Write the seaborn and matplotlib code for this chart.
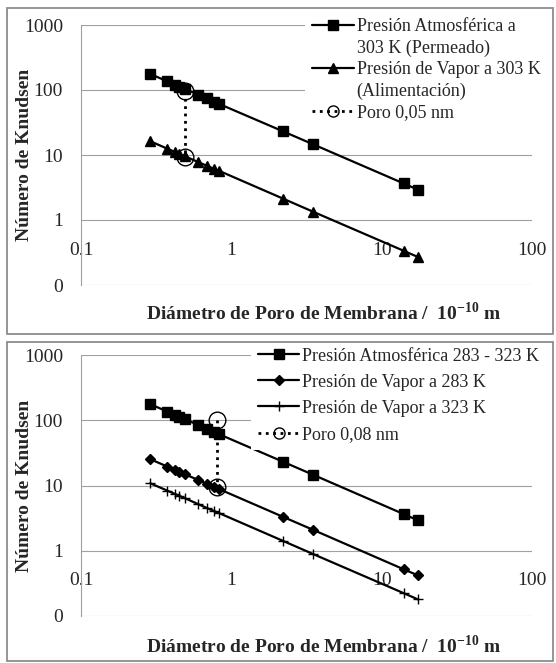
import matplotlib
matplotlib.use("Agg")
import matplotlib.pyplot as plt
import seaborn as sns
from matplotlib.lines import Line2D
from matplotlib.patches import Rectangle
from matplotlib.ticker import FixedLocator, FuncFormatter, NullLocator

# pore diameter (10^-10 m) shared by every series
pore_diam = [0.289, 0.375, 0.42, 0.45, 0.49, 0.60, 0.69, 0.77, 0.83, 2.2, 3.5, 14.0, 17.4]

# Knudsen numbers
kn_atm = [176, 136, 121, 113, 104, 85, 74, 66, 61, 23.2, 14.6, 3.65, 2.93]
kn_vap_303 = [16.3, 12.5, 11.2, 10.4, 9.6, 7.8, 6.8, 6.1, 5.7, 2.14, 1.34, 0.336, 0.27]
kn_vap_283 = [25.3, 19.5, 17.4, 16.2, 14.9, 12.2, 10.6, 9.5, 8.8, 3.32, 2.09, 0.52, 0.42]
kn_vap_323 = [10.8, 8.35, 7.45, 6.95, 6.4, 5.2, 4.5, 4.05, 3.77, 1.42, 0.89, 0.224, 0.18]

# vertical "pore" markers
pore_top_x = [0.49, 0.49]
pore_top_y = [95, 9.4]
pore_bot_x = [0.8, 0.8]
pore_bot_y = [100, 9.4]

x_ticks = [0.1, 1, 10, 100]
y_ticks = [0.1, 1, 10, 100, 1000]

xlabel = r"Diámetro de Poro de Membrana /  10$^{\mathbf{-10}}$ m"
ylabel = "Número de Knudsen"

sns.set_style("white")
plt.rcParams['font.family'] = ['Liberation Serif', 'DejaVu Serif']
plt.rcParams['mathtext.fontset'] = 'custom'
plt.rcParams['mathtext.rm'] = 'Liberation Serif'
plt.rcParams['mathtext.bf'] = 'Liberation Serif:bold'

W, H = 556, 663
fig = plt.figure(figsize=(W / 100, H / 100), dpi=100)


def px_axes(left, top, right, bottom):
    return fig.add_axes([left / W, 1 - bottom / H, (right - left) / W, (bottom - top) / H])


def draw_series(ax, y, marker, ms):
    sns.lineplot(x=pore_diam, y=y, ax=ax, color='black', lw=1.6, marker=marker,
                 markersize=ms, markeredgecolor='black', markerfacecolor='black',
                 markeredgewidth=1.0, estimator=None, sort=False, legend=False)


def draw_pore(ax, xs, ys):
    sns.lineplot(x=xs, y=ys, ax=ax, color='black', lw=2, linestyle=':', marker='o',
                 markersize=12, markerfacecolor='none', markeredgecolor='black',
                 markeredgewidth=1.0, estimator=None, sort=False, legend=False)


def style_axes(ax, xlab_y):
    ax.set_xscale('log')
    ax.set_yscale('log')
    ax.set_xlim(0.1, 100)
    ax.set_ylim(0.1, 1000)
    ax.xaxis.set_major_locator(FixedLocator(x_ticks))
    ax.yaxis.set_major_locator(FixedLocator(y_ticks))
    ax.xaxis.set_minor_locator(NullLocator())
    ax.yaxis.set_minor_locator(NullLocator())
    ax.xaxis.set_major_formatter(FuncFormatter(lambda v, p: "0.1" if v < 0.5 else f"{v:.0f}"))
    ax.yaxis.set_major_formatter(FuncFormatter(lambda v, p: f"{v:.0f}"))
    ax.grid(axis='y', color='#a0a0a0', lw=0.8)
    ax.grid(axis='x', visible=False)
    for s in ['top', 'right']:
        ax.spines[s].set_visible(False)
    ax.spines['bottom'].set_position(('data', 1))
    ax.spines['bottom'].set_visible(False)
    ax.spines['left'].set_color('#a0a0a0')
    ax.spines['left'].set_linewidth(0.8)
    ax.tick_params(axis='y', length=0, pad=13, labelsize=14)
    ax.tick_params(axis='x', length=0, pad=15.5, labelsize=14)
    ax.set_xlabel(xlabel, fontsize=14, fontweight='bold')
    ax.set_ylabel(ylabel, fontsize=14, fontweight='bold')
    ax.xaxis.label.set_va('center')
    ax.yaxis.label.set_va('center')
    ax.xaxis.set_label_coords(0.537, xlab_y)
    ax.yaxis.set_label_coords(-0.125, 0.5)
    ax.set_facecolor('white')


blank = Line2D([], [], color='none')

# ---- top panel ----
ax1 = px_axes(81, 25, 532, 285)
draw_series(ax1, kn_atm, 's', 6.5)
draw_series(ax1, kn_vap_303, '^', 7)
draw_pore(ax1, pore_top_x, pore_top_y)
style_axes(ax1, -0.108)

h_sq = Line2D([], [], color='black', lw=1.6, marker='s', ms=6.5)
h_tri = Line2D([], [], color='black', lw=1.6, marker='^', ms=7)
h_pore = Line2D([], [], color='black', lw=2, ls=':', marker='o', ms=8,
                mfc='none', mec='black', mew=1.0)
ax1.legend([h_sq, blank, h_tri, blank, h_pore],
           ["Presión Atmosférica a", "303 K (Permeado)",
            "Presión de Vapor a 303 K", "(Alimentación)", "Poro 0,05 nm"],
           loc='upper left', bbox_to_anchor=(0.477, 1.09), fontsize=13,
           frameon=True, facecolor='white', edgecolor='none', framealpha=1,
           fancybox=False, borderpad=0.4, labelspacing=0.25,
           handlelength=2.3, handletextpad=0.15)

# ---- bottom panel ----
ax2 = px_axes(81, 355, 532, 616)
draw_series(ax2, kn_atm, 's', 6.5)
draw_series(ax2, kn_vap_283, 'D', 5)
draw_series(ax2, kn_vap_323, '+', 7)
draw_pore(ax2, pore_bot_x, pore_bot_y)
style_axes(ax2, -0.115)

h_dia = Line2D([], [], color='black', lw=1.6, marker='D', ms=5)
h_plus = Line2D([], [], color='black', lw=1.6, marker='+', ms=7)
ax2.legend([h_sq, h_dia, h_plus, h_pore],
           ["Presión Atmosférica 283 - 323 K", "Presión de Vapor a 283 K",
            "Presión de Vapor a 323 K", "Poro 0,08 nm"],
           loc='upper left', bbox_to_anchor=(0.356, 1.09), fontsize=13,
           frameon=True, facecolor='white', edgecolor='none', framealpha=1,
           fancybox=False, borderpad=0.4, labelspacing=0.5,
           handlelength=2.3, handletextpad=0.15)

# panel frames
for (l, t, r, b) in [(7, 8, 553, 334), (7, 342, 553, 661)]:
    fig.patches.append(Rectangle((l / W, 1 - b / H), (r - l) / W, (b - t) / H,
                                 transform=fig.transFigure, fill=False,
                                 edgecolor='#8c8c8c', lw=1.3, zorder=10))

fig.savefig("out.png", dpi=100, facecolor='white')
